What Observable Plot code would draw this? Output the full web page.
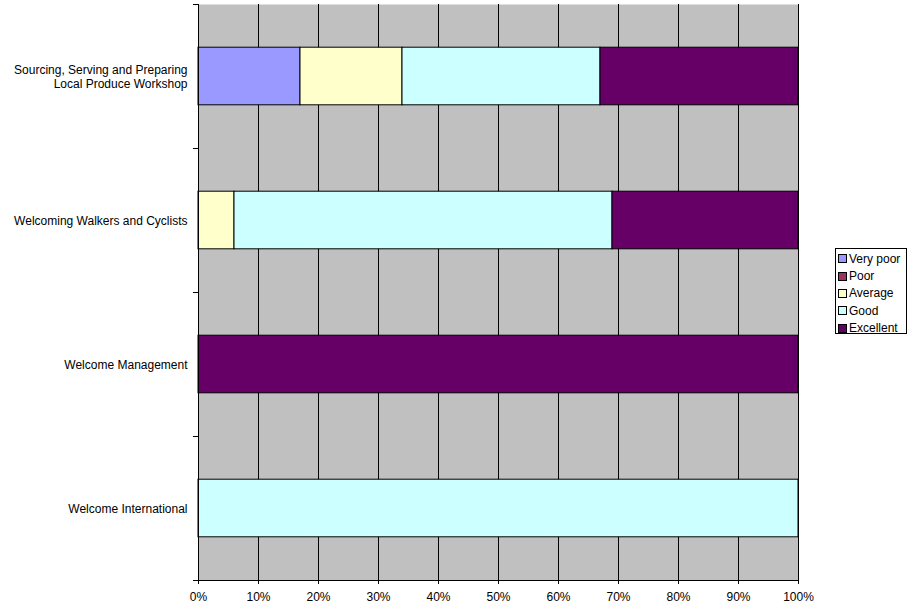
<!DOCTYPE html>
<html>
<head>
<meta charset="utf-8">
<script src="https://cdn.jsdelivr.net/npm/d3@7"></script>
<script src="https://cdn.jsdelivr.net/npm/@observablehq/plot@0.6"></script>
<style>
  html, body { margin: 0; padding: 0; background: #fff; }
  #wrap { position: relative; width: 911px; height: 611px; font-family: "Liberation Sans", Arial, sans-serif; }
  #legend { position: absolute; left: 835px; top: 248px; width: 70px; height: 83px; border: 1px solid #000; background: #fff; box-sizing: content-box; padding-top: 1px; }
  .item { display: flex; align-items: center; height: 17.4px; font-size: 12px; color: #000; }
  .sw { width: 7px; height: 7px; border: 1px solid #000; margin-left: 2px; margin-right: 2px; }
</style>
</head>
<body>
<div id="wrap"><div id="chart"></div><div id="legend"></div></div>
<script>
const categories = [
  "Sourcing, Serving and Preparing\nLocal Produce Workshop",
  "Welcoming Walkers and Cyclists",
  "Welcome Management",
  "Welcome International"
];
const seriesNames = ["Very poor", "Poor", "Average", "Good", "Excellent"];
const seriesColors = ["#9999FF", "#993366", "#FFFFCC", "#CCFFFF", "#660066"];
const veryPoor  = [0.17, 0, 0, 0];
const poor      = [0, 0, 0, 0];
const average   = [0.17, 0.06, 0, 0];
const good      = [0.33, 0.63, 0, 1];
const excellent = [0.33, 0.31, 1, 0];
const xTicks = [0, 0.1, 0.2, 0.3, 0.4, 0.5, 0.6, 0.7, 0.8, 0.9, 1.0];

const seriesValues = [veryPoor, poor, average, good, excellent];
const barFraction = 0.4; // bar thickness relative to category band

const rows = [];
categories.forEach((cat, i) => {
  let cum = 0;
  seriesValues.forEach((vals, s) => {
    const v = vals[i];
    if (v > 0) {
      rows.push({cat, series: seriesNames[s], x1: cum, x2: cum + v,
                 y1: i + (1 - barFraction) / 2, y2: i + (1 + barFraction) / 2});
    }
    cum += v;
  });
});
const labelRows = categories.map((c, i) => ({label: c, y: i + 0.5}));
const bounds = d3.range(categories.length + 1);

const chart = Plot.plot({
  width: 911,
  height: 611,
  marginLeft: 198,
  marginRight: 113,
  marginTop: 4,
  marginBottom: 31,
  style: {fontFamily: "'Liberation Sans', Arial, sans-serif", fontSize: "12px", background: "#fff", color: "#000"},
  x: {domain: [0, 1], range: [198, 798]},
  y: {domain: [0, categories.length], reverse: true},
  color: {domain: seriesNames, range: seriesColors},
  marks: [
    Plot.frame({fill: "#C0C0C0", stroke: null}),
    Plot.ruleX(xTicks.slice(1), {stroke: "#000", strokeWidth: 1}),
    Plot.rect(rows, {x1: "x1", x2: "x2", y1: "y1", y2: "y2", fill: "series", stroke: "#000", strokeWidth: 1}),
    Plot.ruleX([0], {stroke: "#000", strokeWidth: 1}),
    Plot.ruleY([categories.length], {stroke: "#000", strokeWidth: 1}),
    Plot.axisX({ticks: xTicks, tickFormat: d3.format(".0%"), tickSize: 4, tickPadding: 8, fontSize: 12, stroke: "#000", strokeOpacity: 1, label: null}),
    Plot.axisY({ticks: bounds, tickFormat: () => "", tickSize: 5, stroke: "#000", strokeOpacity: 1, label: null}),
    Plot.text(labelRows, {x: 0, y: "y", text: "label", textAnchor: "end", dx: -11, fontSize: 12, lineHeight: 1.12, fill: "#000"})
  ]
});
document.getElementById("chart").appendChild(chart);

const legend = document.getElementById("legend");
seriesNames.forEach((n, i) => {
  const it = document.createElement("div");
  it.className = "item";
  const sw = document.createElement("div");
  sw.className = "sw";
  sw.style.background = seriesColors[i];
  const t = document.createElement("span");
  t.textContent = n;
  it.appendChild(sw); it.appendChild(t);
  legend.appendChild(it);
});
</script>
</body>
</html>
